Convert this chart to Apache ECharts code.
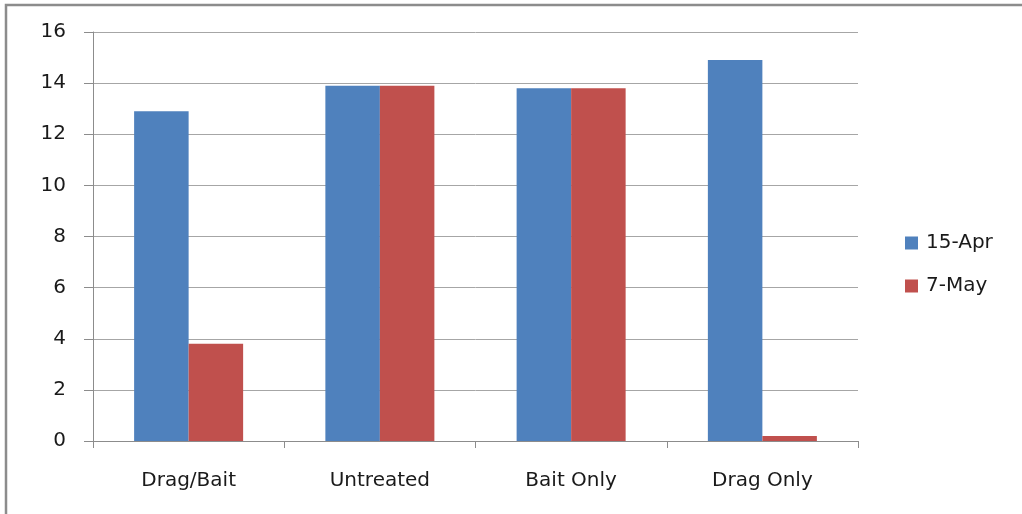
<!DOCTYPE html>
<html>
<head>
<meta charset="utf-8">
<script src="https://cdn.jsdelivr.net/npm/echarts@6/dist/echarts.min.js"></script>
<style>
  html, body { margin: 0; padding: 0; background: #fff; }
  #chart { width: 1022px; height: 514px; }
</style>
</head>
<body>
<div id="chart"></div>
<script>
// Treatment groups along the x axis
const categories = ['Drag/Bait', 'Untreated', 'Bait Only', 'Drag Only'];
// Counts on each sampling date
const april15 = [12.9, 13.9, 13.8, 14.9];
const may7 = [3.8, 13.9, 13.8, 0.2];
const seriesNames = ['15-Apr', '7-May'];

const font = '"DejaVu Sans", Lato, sans-serif';
const chart = echarts.init(document.getElementById('chart'), null, { renderer: 'canvas' });

chart.setOption({
  animation: false,
  backgroundColor: '#fff',
  graphic: [{
    type: 'rect',
    shape: { x: 6, y: 5, width: 1030, height: 530 },
    style: { fill: 'none', stroke: '#8c8c8c', lineWidth: 2.5 },
    silent: true
  }],
  legend: {
    orient: 'vertical',
    left: 900,
    top: 228,
    itemWidth: 13,
    itemHeight: 13,
    itemGap: 23,
    icon: 'rect',
    textStyle: { fontFamily: font, fontSize: 20, color: '#1a1a1a', padding: [0, 0, 0, 3] },
    data: seriesNames
  },
  grid: { left: 93, right: 164, top: 32, bottom: 73, containLabel: false },
  xAxis: {
    type: 'category',
    data: categories,
    axisLine: { show: true, lineStyle: { color: '#8c8c8c', width: 1 } },
    axisTick: { show: true, length: 7, alignWithLabel: false, lineStyle: { color: '#8c8c8c' } },
    axisLabel: { margin: 30, fontFamily: font, fontSize: 20, color: '#1a1a1a' },
    splitLine: { show: false }
  },
  yAxis: {
    type: 'value',
    min: 0,
    max: 16,
    interval: 2,
    axisLine: { show: true, lineStyle: { color: '#8c8c8c', width: 1 } },
    axisTick: { show: true, length: 9, lineStyle: { color: '#8c8c8c' } },
    axisLabel: { margin: 27, fontFamily: font, fontSize: 20, color: '#1a1a1a' },
    splitLine: { show: true, lineStyle: { color: '#a6a6a6', width: 1 } }
  },
  series: [
    {
      name: seriesNames[0],
      type: 'bar',
      data: april15,
      barGap: '0%',
      barCategoryGap: '43%',
      itemStyle: { color: '#4F81BD' }
    },
    {
      name: seriesNames[1],
      type: 'bar',
      data: may7,
      itemStyle: { color: '#C0504D' }
    }
  ]
});
</script>
</body>
</html>
